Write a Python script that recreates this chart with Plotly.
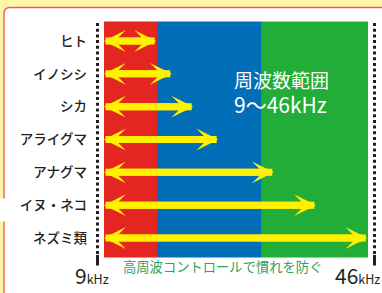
import plotly.graph_objects as go

# ---- data ----
animals = ["ヒト", "イノシシ", "シカ", "アライグマ", "アナグマ", "イヌ・ネコ", "ネズミ類"]
hearing_min_khz = [9, 9, 9, 9, 9, 9, 9]
hearing_max_khz = [16.3, 18.5, 21.5, 25.0, 32.8, 38.7, 45.9]
band_edges_khz = [9, 16.5, 31.1, 46]
band_colors = ["#E52521", "#036EB8", "#22AC38"]
range_title = "周波数範囲"
range_text = "9〜46kHz"
axis_min_label = "9"
axis_max_label = "46"
unit_label = "kHz"
caption = "高周波コントロールで慣れを防ぐ"

# ---- layout geometry ----
W, H = 382, 293
L, R, T, B = 104, 14, 22, 36
PW, PH = W - L - R, H - T - B
FONT = "Noto Sans CJK JP, Noto Sans, sans-serif"
ARROW = "#FFF100"


def px(xp):
    return (xp - L) / PW


def py(yp):
    return (H - B - yp) / PH


row_top, row_step = 41, (238 - 41) / 6
y_top = -(row_top - T) / row_step
y_bot = (len(animals) - 1) + ((H - B) - 238) / row_step

fig = go.Figure()
fig.add_trace(go.Scatter(x=[band_edges_khz[0]], y=[0], mode="markers",
                         marker=dict(opacity=0), hoverinfo="skip", showlegend=False))

shapes = []
# white rounded panel
r = 6
x0p, y0p = 4, 7.5
x1p, y1p = W + 20, H + 20
path = (f"M {px(x0p)},{py(y1p)} L {px(x0p)},{py(y0p + r)} "
        f"Q {px(x0p)},{py(y0p)} {px(x0p + r)},{py(y0p)} "
        f"L {px(x1p)},{py(y0p)} L {px(x1p)},{py(y1p)} Z")
shapes.append(dict(type="path", xref="paper", yref="paper", path=path,
                   fillcolor="white", line=dict(color="#EE5A63", width=1.4), layer="below"))
# gap in the left border
shapes.append(dict(type="rect", xref="paper", yref="paper",
                   x0=px(-2), x1=px(7), y0=py(221.5), y1=py(198.5),
                   fillcolor="white", line=dict(width=0), layer="below"))

# frequency bands
for i, c in enumerate(band_colors):
    shapes.append(dict(type="rect", xref="x", yref="paper",
                       x0=band_edges_khz[i], x1=band_edges_khz[i + 1], y0=0, y1=1,
                       fillcolor=c, line=dict(color=c, width=1), layer="below"))

# dotted guide lines with solid ends
for xp in (97.5, 374.5):
    shapes.append(dict(type="line", xref="paper", yref="paper",
                       x0=px(xp), x1=px(xp), y0=py(23), y1=py(255),
                       line=dict(color="#231F20", width=3, dash="3px,2.7px"), layer="above"))
    shapes.append(dict(type="line", xref="paper", yref="paper",
                       x0=px(xp), x1=px(xp), y0=py(255), y1=py(265.5),
                       line=dict(color="#231F20", width=3), layer="above"))

annotations = []
# double-headed arrows (two opposite single-headed arrows overlaid)
for i, (lo, hi) in enumerate(zip(hearing_min_khz, hearing_max_khz)):
    for tail, head in ((lo, hi), (hi, lo)):
        annotations.append(dict(xref="x", yref="y", axref="x", ayref="y",
                                x=head, y=i, ax=tail, ay=i, text="",
                                showarrow=True, arrowhead=3, arrowsize=0.52,
                                arrowwidth=7, arrowcolor=ARROW, standoff=0, startstandoff=0))

# range text
annotations.append(dict(xref="paper", yref="paper", x=px(232), y=py(92), xanchor="left",
                        yanchor="middle", align="left",
                        text=f"{range_title}<br><span style='font-size:21px'>{range_text}</span>",
                        showarrow=False, font=dict(family=FONT, size=19, color="white")))
# axis end labels
for lab, xp in ((axis_min_label, 73), (axis_max_label, 333)):
    annotations.append(dict(xref="paper", yref="paper", x=px(xp), y=py(275), xanchor="left",
                            yanchor="middle", showarrow=False,
                            text=f"{lab}<span style='font-size:12.5px'>{unit_label}</span>",
                            font=dict(family=FONT, size=21, color="#231F20")))
# caption
annotations.append(dict(xref="paper", yref="paper", x=px(222.5), y=py(266.5), xanchor="center",
                        yanchor="middle", text=caption, showarrow=False,
                        font=dict(family=FONT, size=13.3, color="#2FA15A")))

fig.update_layout(
    width=W, height=H,
    margin=dict(l=L, r=R, t=T, b=B, pad=0),
    paper_bgcolor="#FFF7A8", plot_bgcolor="rgba(0,0,0,0)",
    shapes=shapes, annotations=annotations, showlegend=False,
    xaxis=dict(range=[band_edges_khz[0], band_edges_khz[-1]], visible=False, fixedrange=True),
    yaxis=dict(range=[y_bot, y_top], tickmode="array", tickvals=list(range(len(animals))),
               ticktext=animals, showgrid=False, zeroline=False, showline=False, ticks="",
               ticklabelstandoff=16, fixedrange=True,
               tickfont=dict(family=FONT, size=13.5, color="#231F20", weight=500)),
)

fig.write_html("out.html", config={"displayModeBar": False},
               post_script="document.body.style.margin='0';document.body.style.overflow='hidden';")
